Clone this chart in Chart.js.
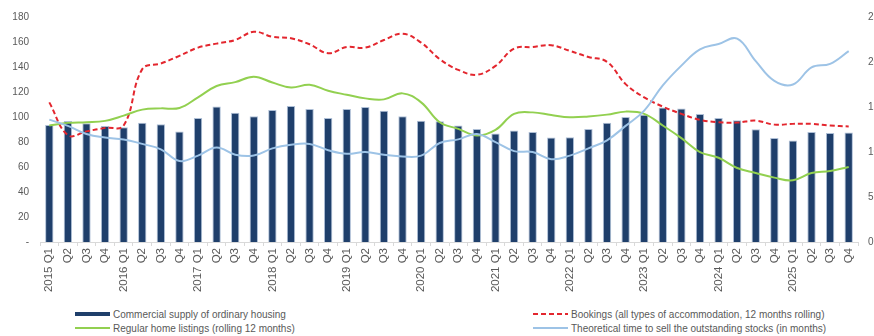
<!DOCTYPE html>
<html>
<head>
<meta charset="utf-8">
<script src="https://cdn.jsdelivr.net/npm/chart.js@4.4.1/dist/chart.umd.min.js"></script>
<style>
    html, body { margin: 0; padding: 0; background: #fff; overflow: hidden; width: 874px; height: 336px; }
    #wrap { position: relative; width: 874px; height: 336px; overflow: hidden; }
    #housingChart { position: absolute; left: 0; top: 0; }
    .legend-item { position: absolute; display: flex; align-items: center; font: 10px "Liberation Sans", Arial, sans-serif; color: #595959; white-space: nowrap; }
    .swatch { width: 35px; margin-right: 3px; }
</style>
</head>
<body>
<div id="wrap">
    <canvas id="housingChart" width="890" height="300"></canvas>
    <div id="legend"></div>
</div>
<script>
const years = [2015, 2016, 2017, 2018, 2019, 2020, 2021, 2022, 2023, 2024, 2025];
const quarters = ['Q1', 'Q2', 'Q3', 'Q4'];

const commercialSupply = [
    93.7, 96.9, 95, 92.9,
    91.8, 95.5, 94.2, 88.4,
    99.3, 108.5, 103.5, 100.6,
    105.6, 108.8, 106.4, 99.3,
    106.4, 108, 105.1, 100.6,
    97.1, 96.6, 93.2, 90.5,
    86.8, 89.2, 88.1, 83.6,
    83.8, 90.5, 95.5, 100,
    101.9, 107.7, 106.9, 102.5,
    99.3, 97.4, 90.2, 83.3,
    81.2, 88.1, 87.3, 87.6
];
const bookings = [
    111.7, 85.5, 88.5, 91.3,
    93.2, 138.3, 142.8, 148.9,
    155.5, 158.7, 161.6, 168.2,
    164.2, 163, 158.2, 151,
    156, 155.5, 161.6, 166.7,
    159.5, 146.3, 137.7, 133.8,
    140.9, 154.7, 156, 157.4,
    152.9, 148, 144.1, 126.3,
    115.7, 108.3, 102.5, 97.7,
    95.8, 95.5, 97.1, 93.9,
    94.5, 94.5, 93.2, 92.4
];
const homeListings = [
    93.2, 95.3, 95.8, 96.9,
    101.1, 105.9, 106.9, 107.2,
    115.7, 124.8, 127.9, 132.2,
    127.6, 123.6, 125.8, 121,
    117.8, 114.9, 114.1, 118.9,
    111.7, 95.8, 90.5, 85.2,
    89.7, 102.5, 103.7, 101.6,
    99.8, 100.4, 101.9, 104.3,
    102.5, 93.2, 83.1, 71.9,
    67.4, 59.2, 55.2, 51.5,
    49.4, 55.2, 56.8, 60
];
const timeToSell = [
    13.6, 12.9, 12.0, 11.6,
    11.4, 10.9, 10.3, 9.0,
    9.6, 10.5, 9.7, 9.6,
    10.4, 10.8, 10.9, 10.2,
    9.8, 10.0, 9.7, 9.5,
    9.6, 11.0, 11.4, 12.0,
    11.1, 10.1, 10.0, 9.2,
    9.6, 10.4, 11.3, 12.9,
    14.6, 17.4, 19.6, 21.4,
    22.0, 22.6, 20.1, 17.9,
    17.5, 19.4, 19.8, 21.2
];

const labels = [];
years.forEach(y => quarters.forEach((q, i) => labels.push(i === 0 ? y + ' ' + q : q)));

const tickFont = { family: '"Liberation Sans", Arial, sans-serif', size: 10 };

const ctx = document.getElementById('housingChart').getContext('2d');
const housingChart = new Chart(ctx, {
    type: 'bar',
    data: {
        labels: labels,
        datasets: [{
            type: 'line',
            label: 'Bookings (all types of accommodation, 12 months rolling)',
            data: bookings,
            borderColor: '#e3262e',
            borderWidth: 2,
            borderDash: [5, 3],
            pointRadius: 0,
            tension: 0.4,
            yAxisID: 'y',
            order: 3
        }, {
            type: 'line',
            label: 'Regular home listings (rolling 12 months)',
            data: homeListings,
            borderColor: '#92d050',
            borderWidth: 2,
            pointRadius: 0,
            tension: 0.4,
            yAxisID: 'y',
            order: 2
        }, {
            type: 'line',
            label: 'Theoretical time to sell the outstanding stocks (in months)',
            data: timeToSell,
            borderColor: '#9dc3e6',
            borderWidth: 2,
            pointRadius: 0,
            tension: 0.4,
            yAxisID: 'y1',
            order: 1
        }, {
            label: 'Commercial supply of ordinary housing',
            data: commercialSupply,
            backgroundColor: '#1f3f6b',
            borderColor: '#aebfd6',
            borderWidth: 1,
            barPercentage: 0.45,
            categoryPercentage: 1,
            yAxisID: 'y',
            order: 10
        }]
    },
    options: {
        responsive: false,
        animation: false,
        devicePixelRatio: 1,
        layout: { padding: { top: 16, left: 0, right: 0, bottom: 0 } },
        plugins: {
            legend: { display: false },
            tooltip: { enabled: false }
        },
        scales: {
            x: {
                grid: { display: true, drawOnChartArea: false, drawTicks: true, tickLength: 4, color: '#d9d9d9', offset: true },
                border: { display: true, color: '#d9d9d9' },
                ticks: { color: '#595959', font: { family: tickFont.family, size: 11.5 }, minRotation: 90, maxRotation: 90, autoSkip: false, padding: 2 },
                afterFit: scale => { scale.height = 58; }
            },
            y: {
                position: 'left',
                min: 0,
                max: 180,
                grid: { display: false, drawTicks: false },
                border: { display: false },
                ticks: { stepSize: 20, color: '#595959', font: tickFont, padding: 11, callback: v => v === 0 ? '-' : v },
                afterFit: scale => { scale.width = 40; }
            },
            y1: {
                position: 'right',
                min: 0,
                max: 25,
                grid: { display: false, drawTicks: false },
                border: { display: false },
                ticks: { stepSize: 5, color: '#595959', font: tickFont, padding: 10 },
                afterFit: scale => { scale.width = 32; }
            }
        }
    }
});

// legend laid out in two columns like the original
const legendSlots = [
    { x: 75, y: 314, idx: 3 },
    { x: 75, y: 328, idx: 1 },
    { x: 533, y: 314, idx: 0 },
    { x: 533, y: 328, idx: 2 }
];
const legendEl = document.getElementById('legend');
legendSlots.forEach(slot => {
    const ds = housingChart.data.datasets[slot.idx];
    const item = document.createElement('div');
    item.className = 'legend-item';
    item.style.left = slot.x + 'px';
    item.style.top = (slot.y - 7) + 'px';
    item.style.height = '14px';
    const sw = document.createElement('span');
    sw.className = 'swatch';
    if (ds.type === 'line') {
        sw.style.height = '2px';
        if (ds.borderDash) {
            sw.style.background = 'repeating-linear-gradient(90deg, ' + ds.borderColor + ' 0 5px, transparent 5px 8px)';
        } else {
            sw.style.background = ds.borderColor;
        }
    } else {
        sw.style.height = '4px';
        sw.style.background = ds.backgroundColor;
    }
    const txt = document.createElement('span');
    txt.textContent = ds.label;
    item.appendChild(sw);
    item.appendChild(txt);
    legendEl.appendChild(item);
});
</script>
</body>
</html>
